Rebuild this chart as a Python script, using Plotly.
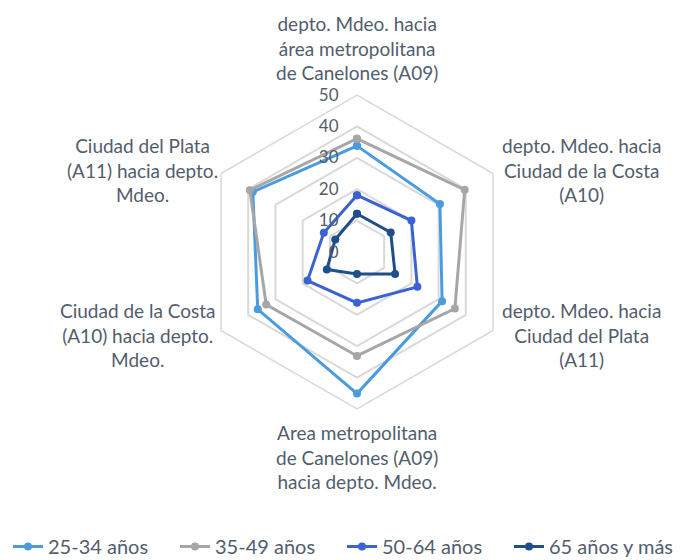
import plotly.graph_objects as go

categories = [
    "depto. Mdeo. hacia área metropolitana de Canelones (A09)",
    "depto. Mdeo. hacia Ciudad de la Costa (A10)",
    "depto. Mdeo. hacia Ciudad del Plata (A11)",
    "Area metropolitana de Canelones (A09) hacia depto. Mdeo.",
    "Ciudad de la Costa (A10) hacia depto. Mdeo.",
    "Ciudad del Plata (A11) hacia depto. Mdeo.",
]
# wrapped versions for the labels around the chart
category_labels = [
    "depto. Mdeo. hacia<br>área metropolitana<br>de Canelones (A09)",
    "depto. Mdeo. hacia<br>Ciudad de la Costa<br>(A10)",
    "depto. Mdeo. hacia<br>Ciudad del Plata<br>(A11)",
    "Area metropolitana<br>de Canelones (A09)<br>hacia depto. Mdeo.",
    "Ciudad de la Costa<br>(A10) hacia depto.<br>Mdeo.",
    "Ciudad del Plata<br>(A11) hacia depto.<br>Mdeo.",
]

series_names = ["25-34 años", "35-49 años", "50-64 años", "65 años y más"]
v_25_34 = [33.8, 30.5, 31.3, 45.1, 36.5, 38.3]
v_35_49 = [36.1, 39.6, 36.0, 33.1, 33.4, 39.4]
v_50_64 = [18.1, 20.0, 22.2, 16.2, 18.2, 12.2]
v_65_mas = [12.2, 12.4, 14.0, 7.0, 11.1, 8.0]
radial_ticks = [0, 10, 20, 30, 40, 50]

colors = ["#4A9BE0", "#A6A6A6", "#3A62D3", "#1E4E8C"]
text_color = "#525D6C"
font_family = "Lato, 'Open Sans', sans-serif"

fig = go.Figure()
for name, vals, col in zip(series_names, [v_25_34, v_35_49, v_50_64, v_65_mas], colors):
    fig.add_trace(go.Scatterpolar(
        r=vals + vals[:1],
        theta=categories + categories[:1],
        mode="lines+markers",
        name=name,
        line=dict(color=col, width=3),
        marker=dict(color=col, size=8),
    ))

W, H = 691, 560
OFF = 8  # page body margin shifts the figure by this much

# label positions around the hexagon (screen pixels from top-left)
label_pos = [
    (357, 48), (581, 170), (581, 335),
    (357, 457), (138, 335), (142, 170),
]
annotations = []
for lbl, (px, py) in zip(category_labels, label_pos):
    annotations.append(dict(
        text=lbl, x=(px - OFF) / W, y=1 - (py - OFF) / H, xref="paper", yref="paper",
        xanchor="center", yanchor="middle", showarrow=False,
        font=dict(size=19, color=text_color, family=font_family),
    ))

cx, cy, R = 357 - OFF, 252 - OFF, 157
fig.update_layout(
    width=W, height=H,
    margin=dict(l=0, r=0, t=0, b=0),
    paper_bgcolor="white",
    font=dict(family=font_family, color=text_color),
    polar=dict(
        domain=dict(x=[(cx - R) / W, (cx + R) / W], y=[1 - (cy + R) / H, 1 - (cy - R) / H]),
        gridshape="linear",
        bgcolor="white",
        radialaxis=dict(
            range=[0, 50], tickvals=radial_ticks, angle=90, tickangle=90,
            side="counterclockwise",
            showline=False, ticks="outside", ticklen=12, tickcolor="rgba(0,0,0,0)",
            gridcolor="#D9D9D9", gridwidth=1.5,
            tickfont=dict(size=17, color=text_color),
        ),
        angularaxis=dict(
            rotation=90, direction="clockwise", showgrid=False,
            showticklabels=False, ticks="",
            linecolor="#D9D9D9", linewidth=1.5,
        ),
    ),
    legend=dict(
        orientation="h", x=0, xanchor="left", y=2 / H, yanchor="bottom",
        font=dict(size=20, color=text_color),
        entrywidth=122, entrywidthmode="pixels",
    ),
    annotations=annotations,
)

fig.write_html("out.html")
